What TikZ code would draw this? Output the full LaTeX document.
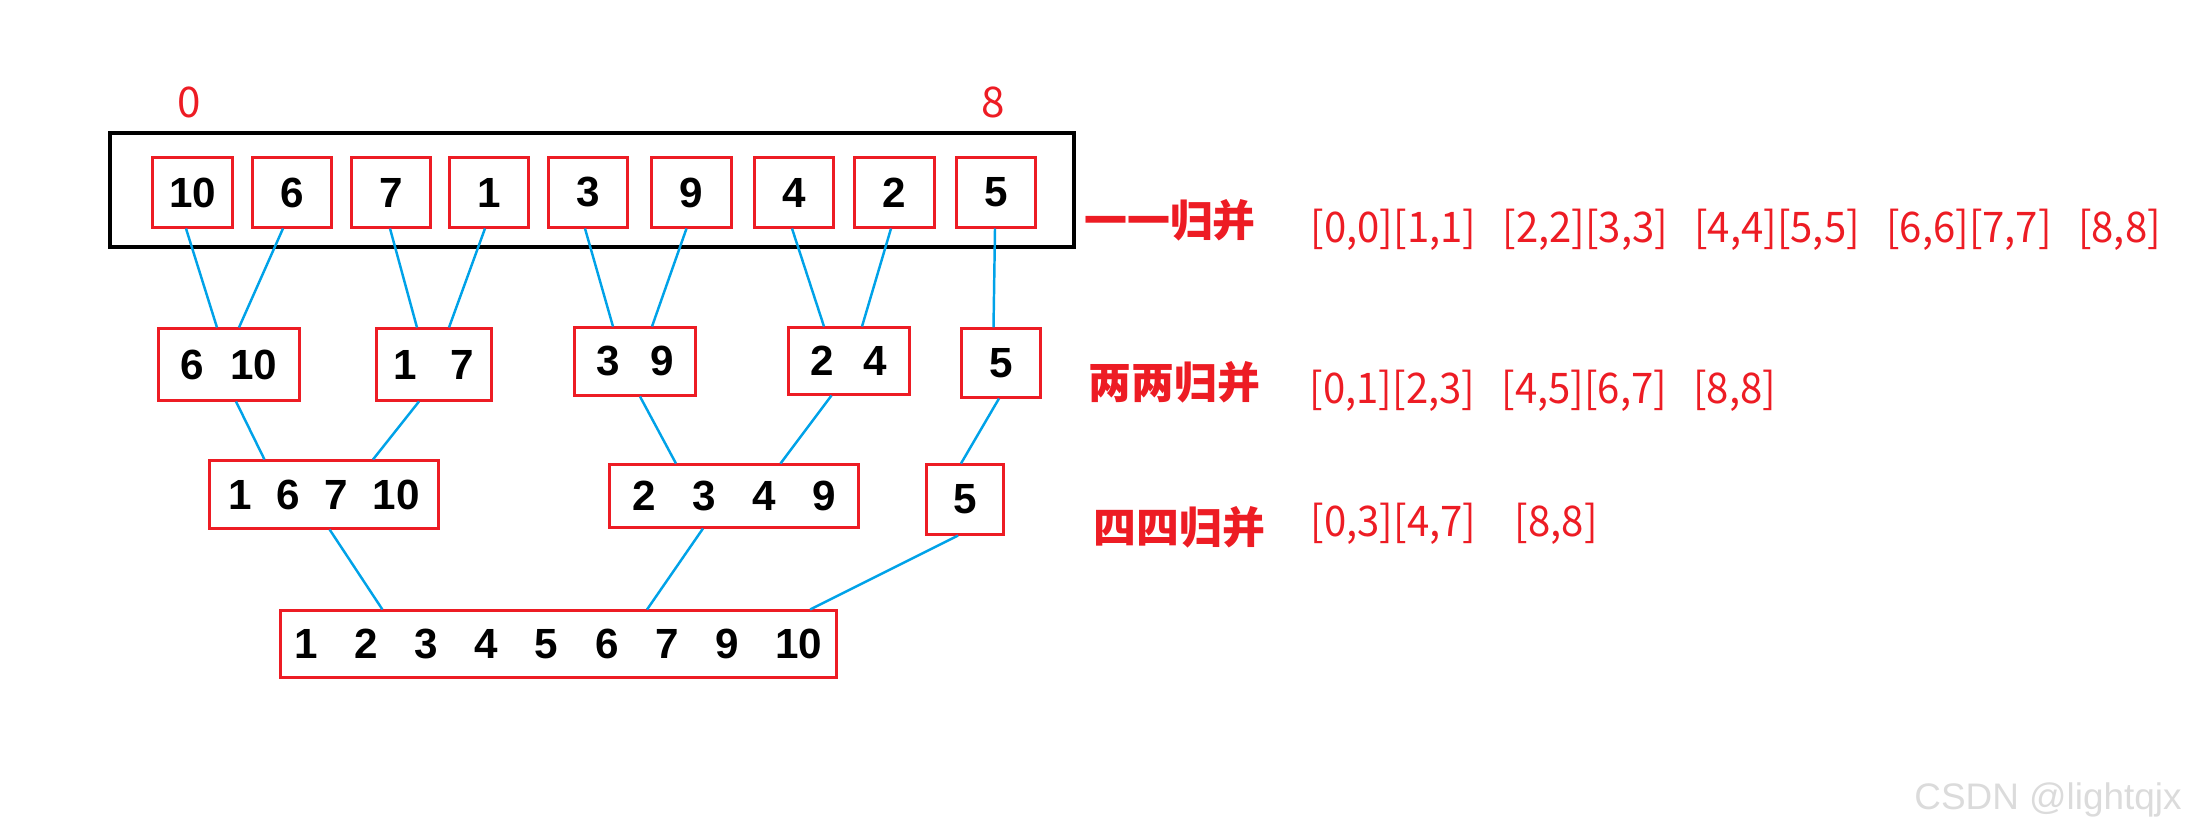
\documentclass[tikz,border=0pt]{standalone}
\usepackage{fontspec}
\setmainfont{Liberation Sans}
\newfontfamily\cjk{Noto Sans CJK SC}
\newfontfamily\cjknarrow[FakeStretch=0.95]{Noto Sans CJK SC}
\usetikzlibrary{positioning}

\definecolor{boxred}{RGB}{237,28,36}
\definecolor{linkblue}{RGB}{0,162,232}

\begin{document}
\begin{tikzpicture}[x=0.01cm, y=-0.01cm,
    every node/.style={inner sep=0pt, font=\fontsize{12}{14}\selectfont\bfseries},
    num/.style={draw=boxred, line width=0.85pt, minimum width=0.79cm, minimum height=0.69cm},
    grp/.style={draw=boxred, line width=0.85pt},
    link/.style={draw=linkblue, line width=0.7pt},
    tag/.style={text=boxred, font=\cjk\fontsize{12}{14}\selectfont},
    ivl/.style={text=boxred, anchor=west, font=\cjknarrow\fontsize{12}{14}\selectfont},
    round/.style={text=boxred, font=\cjk\fontsize{12.2}{14}\selectfont\bfseries},
    credit/.style={text=black!14, font=\fontsize{10.5}{12}\selectfont}]
    \useasboundingbox (0,0) rectangle (2194,834);

    % Single elements
    \draw[line width=0.9pt] (110,133) rectangle (1074,247);
    \node[num] (a0) at (192.5,192.5) {10};
    \node[num] (a1) at (292,192.5) {6};
    \node[num] (a2) at (391,192.5) {7};
    \node[num] (a3) at (489,192.5) {1};
    \node[num] (a4) at (588,192.5) {3};
    \node[num] (a5) at (691.5,192.5) {9};
    \node[num] (a6) at (794,192.5) {4};
    \node[num] (a7) at (894.5,192.5) {2};
    \node[num] (a8) at (996,192.5) {5};
    \node[tag] (lo) at (189,102) {0};
    \node[tag] (hi) at (993,102) {8};

    % Merged pairs
    \node[grp, minimum width=1.40cm, minimum height=0.71cm] (b1) at (229,364.5) {6\hspace{7.4pt}10};
    \node[grp, minimum width=1.14cm, minimum height=0.71cm] (b2) at (434,364.5) {1\hspace{9.6pt}7};
    \node[grp, minimum width=1.20cm, minimum height=0.67cm] (b3) at (635,361.5) {3\hspace{8.8pt}9};
    \node[grp, minimum width=1.20cm, minimum height=0.66cm] (b4) at (849,361) {2\hspace{8.3pt}4};
    \node[grp, minimum width=0.78cm, minimum height=0.68cm] (b5) at (1001,363) {5};

    % Merged fours
    \node[grp, minimum width=2.28cm, minimum height=0.67cm] (c1) at (324,494.5) {1\hspace{7pt}6\hspace{7pt}7\hspace{7pt}10};
    \node[grp, minimum width=2.48cm, minimum height=0.62cm] (c2) at (734,496) {2\hspace{10.4pt}3\hspace{10.4pt}4\hspace{10.4pt}9};
    \node[grp, minimum width=0.775cm, minimum height=0.69cm] (c3) at (965,499.5) {5};

    % Result
    \node[grp, minimum width=5.55cm, minimum height=0.66cm] (d) at (558.5,644) {1\hspace{10.4pt}2\hspace{10.4pt}3\hspace{10.4pt}4\hspace{10.4pt}5\hspace{10.4pt}6\hspace{10.4pt}7\hspace{10.4pt}9\hspace{10.4pt}10};

    % Links
    \draw[link] ([xshift=-0.065cm]a0.south) -- ([xshift=-0.12cm]b1.north); \draw[link] ([xshift=-0.09cm]a1.south) -- ([xshift=0.10cm]b1.north);
    \draw[link] ([xshift=-0.01cm]a2.south) -- ([xshift=-0.17cm]b2.north); \draw[link] ([xshift=-0.04cm]a3.south) -- ([xshift=0.15cm]b2.north);
    \draw[link] ([xshift=-0.03cm]a4.south) -- ([xshift=-0.22cm]b3.north); \draw[link] ([xshift=-0.05cm]a5.south) -- ([xshift=0.17cm]b3.north);
    \draw[link] ([xshift=-0.02cm]a6.south) -- ([xshift=-0.25cm]b4.north); \draw[link] ([xshift=-0.035cm]a7.south) -- ([xshift=0.13cm]b4.north);
    \draw[link] ([xshift=-0.01cm]a8.south) -- ([xshift=-0.075cm]b5.north);

    \draw[link] ([xshift=0.07cm]b1.south) -- ([xshift=-0.595cm]c1.north); \draw[link] ([xshift=-0.15cm]b2.south) -- ([xshift=0.49cm]c1.north);
    \draw[link] ([xshift=0.05cm]b3.south) -- ([xshift=-0.58cm]c2.north); \draw[link] ([xshift=-0.175cm]b4.south) -- ([xshift=0.465cm]c2.north);
    \draw[link] ([xshift=-0.02cm]b5.south) -- ([xshift=-0.04cm]c3.north);

    \draw[link] ([xshift=0.056cm]c1.south) -- ([xshift=-1.76cm]d.north); \draw[link] ([xshift=-0.31cm]c2.south) -- ([xshift=0.885cm]d.north);
    \draw[link] ([xshift=-0.07cm]c3.south) -- ([xshift=2.515cm]d.north);

    % Rounds
    \node[round] (r1) at (1170,220) {一一归并};
    \node[round] (r2) at (1174.5,382) {两两归并};
    \node[round] (r3) at (1179.5,527) {四四归并};
    \node[ivl] (s1) at (1310,230) {[0,0][1,1]\hspace{7.5pt}[2,2][3,3]\hspace{7.5pt}[4,4][5,5]\hspace{7.5pt}[6,6][7,7]\hspace{7.5pt}[8,8]};
    \node[ivl] (s2) at (1309,391) {[0,1][2,3]\hspace{7.5pt}[4,5][6,7]\hspace{7.5pt}[8,8]};
    \node[ivl] (s3) at (1310,524) {[0,3][4,7]\hspace{11pt}[8,8]};

    \node[credit] (wm) at (2048,800) {CSDN @lightqjx};
\end{tikzpicture}
\end{document}
